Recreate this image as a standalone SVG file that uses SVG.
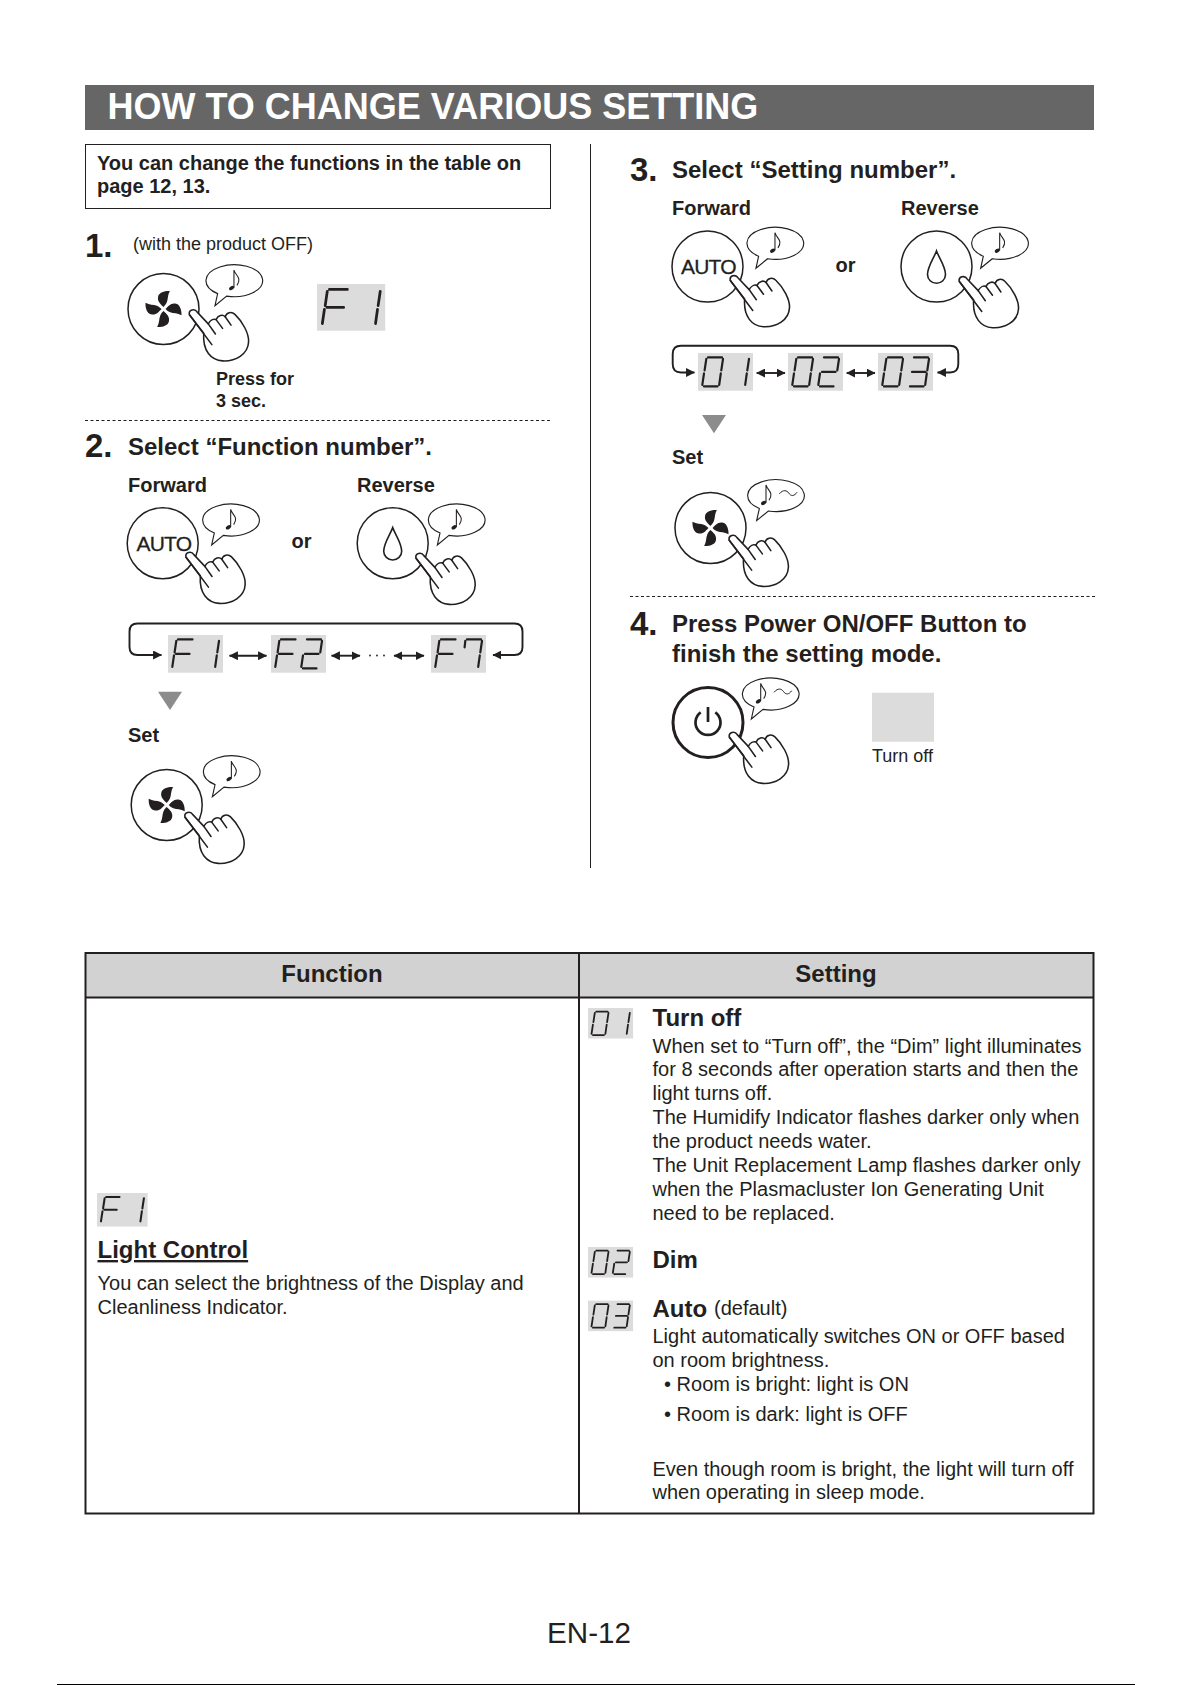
<svg xmlns="http://www.w3.org/2000/svg" width="1192" height="1685" viewBox="0 0 1192 1685">
<style>
text{font-family:"Liberation Sans",Arial,sans-serif;fill:#231f20}
.b{font-weight:bold}
.s{font-size:18px}
.bs{font-size:18px;font-weight:bold}
.bl{font-size:20px;font-weight:bold}
.h{font-size:24px;font-weight:bold}
.n{font-size:33px;font-weight:bold}
.t{font-size:24px;font-weight:bold}
.p{font-size:20px}
.a{font-size:21px;letter-spacing:-.8px;stroke:#231f20;stroke-width:.3}
.seg{fill:none;stroke:#231f20;stroke-width:2.2;stroke-linecap:round}
.led{fill:#dcdcdc}
.btn{fill:#fff;stroke:#231f20;stroke-width:1.5}
.hand{fill:#fff;stroke:#231f20;stroke-width:4.8;stroke-linejoin:round;stroke-linecap:round}
.wire{fill:none;stroke:#231f20;stroke-width:1.9;stroke-linejoin:round}
.dash{stroke:#231f20;stroke-width:1;stroke-dasharray:3 2.5;fill:none}
.tri{fill:#8c8c8c}
</style>
<defs>
<marker id="ah" viewBox="0 0 8 8" refX="7.5" refY="4" markerWidth="9" markerHeight="9" markerUnits="userSpaceOnUse" orient="auto-start-reverse"><path d="M0,0L8,4L0,8Z" fill="#231f20"/></marker>
<g id="dF" class="seg"><path d="M6,0H20.5M4.3,1.5L2.6,13M2,16L.3,27.5M4,14.5H17.5"/></g>
<g id="d1" class="seg"><path d="M21,1.5L19.3,13M18.8,16L17.2,27.5"/></g>
<g id="d2" class="seg"><path d="M6,0H20M21,1.5L19.3,13M4,14.5H17.5M2,16L.3,27.5M2,29H15.5"/></g>
<g id="d3" class="seg"><path d="M6,0H20M21,1.5L19.3,13M4,14.5H17.5M18.8,16L17.2,27.5M2,29H15.5"/></g>
<g id="d7" class="seg"><path d="M6,0H20M4.3,1.5L3.6,8M21,1.5L19.3,13M18.8,16L17.2,27.5"/></g>
<g id="d0" class="seg"><path d="M6,0H20M21,1.5L19.3,13M18.8,16L17.2,27.5M2,29H15.5M2,16L.3,27.5M4.3,1.5L2.6,13"/></g>
<g id="F1"><rect class="led" width="55" height="37.7"/><use href="#dF" x="4" y="4.4"/><use href="#d1" x="30" y="4.4"/></g>
<g id="F2"><rect class="led" width="55" height="37.7"/><use href="#dF" x="4" y="4.4"/><use href="#d2" x="30" y="4.4"/></g>
<g id="F7"><rect class="led" width="55" height="37.7"/><use href="#dF" x="4" y="4.4"/><use href="#d7" x="30" y="4.4"/></g>
<g id="S1"><rect class="led" width="55" height="37.7"/><use href="#d0" x="4" y="4.4"/><use href="#d1" x="30" y="4.4"/></g>
<g id="S2"><rect class="led" width="55" height="37.7"/><use href="#d0" x="4" y="4.4"/><use href="#d2" x="30" y="4.4"/></g>
<g id="S3"><rect class="led" width="55" height="37.7"/><use href="#d0" x="4" y="4.4"/><use href="#d3" x="30" y="4.4"/></g>
<g id="hand" class="hand" transform="scale(.325)">
<g transform="translate(-335,-278)">
<path d="M328,288C324,272 345,268 352,280L386,316C392,305 402,300 410,303C416,290 430,286 438,294C442,280 458,277 468,287C490,308 512,345 510,372C508,410 470,432 430,430C395,428 368,400 372,345Z"/>
<path d="M328,288L397,380M386,316L408,347M410,303L430,330M438,294L456,320" fill="none"/>
</g></g>
<g id="bub" transform="scale(.3333)">
<path d="M-50,38.8L-58,75L-23,46.2A85,48 0 1 0 -50,38.8Z" fill="#fff" stroke="#231f20" stroke-width="3.4"/>
<ellipse cx="-8" cy="22" rx="8.500" ry="5.500" transform="rotate(-30 -8 22)" fill="#231f20"/>
<path d="M-1,21V-32C3,-15 24,-10 8,14" fill="none" stroke="#231f20" stroke-width="3.2"/>
</g>
<g id="bubL" transform="scale(.3333)">
<path d="M-50,38.8L-58,75L-23,46.2A85,48 0 1 0 -50,38.8Z" fill="#fff" stroke="#231f20" stroke-width="3.4"/>
<ellipse cx="-37" cy="22" rx="8.500" ry="5.500" transform="rotate(-30 -37 22)" fill="#231f20"/>
<path d="M-30,21V-32C-26,-15 -5,-10 -21,14" fill="none" stroke="#231f20" stroke-width="3.2"/>
<path d="M10,-5C22,-20 33,-15 38,-8C45,3 55,2 63,-10" fill="none" stroke="#231f20" stroke-width="3"/>
</g>
<g id="fan" transform="scale(.3333)">
<path id="bl" d="M0,-6C-8,-14 -20,-22 -16,-38C-13,-50 5,-55 19,-54C12,-42 14,-30 10,-20C7,-13 3,-9 0,-6Z" fill="#231f20"/>
<use href="#bl" transform="rotate(90)"/><use href="#bl" transform="rotate(180)"/><use href="#bl" transform="rotate(270)"/>
</g>
<g id="drop" transform="scale(.3333)"><path d="M0,-47C-8,-25 -27,0 -27,24A27,26 0 0 0 27,24C27,0 8,-25 0,-47Z" fill="none" stroke="#231f20" stroke-width="4.8"/></g>
</defs>

<rect width="1192" height="1685" fill="#fff"/>

<g id="header">
<rect x="85" y="85" width="1009" height="45" fill="#666"/>
<text x="107.500" y="119" class="b" font-size="36" style="fill:#fff">HOW TO CHANGE VARIOUS SETTING</text>
</g>

<g id="note-box">
<rect x="85.500" y="144.500" width="465" height="64" fill="#fff" stroke="#231f20" stroke-width="1"/>
<text x="97" y="170" class="b" font-size="20">You can change the functions in the table on</text>
<text x="97" y="193" class="b" font-size="20">page 12, 13.</text>
</g>

<g id="dividers">
<line class="dash" x1="85" y1="420.500" x2="551" y2="420.500"/>
<line class="dash" x1="630" y1="596.500" x2="1095" y2="596.500"/>
<line x1="590.500" y1="144" x2="590.500" y2="868" stroke="#231f20" stroke-width="1"/>
</g>

<g id="step1">
<text x="85" y="257" class="n">1.</text>
<text x="133" y="249.500" class="s">(with the product OFF)</text>
<circle class="btn" cx="163.500" cy="309" r="35.500"/>
<use href="#fan" transform="translate(163.500,309)"/>
<use href="#bub" transform="translate(234.300,280.700)"/>
<use href="#hand" transform="translate(191.700,311.500)"/>
<use href="#F1" transform="translate(317,284) scale(1.24)"/>
<text x="216" y="385" class="bs">Press for</text>
<text x="216" y="407" class="bs">3 sec.</text>
</g>

<g id="step2">
<text x="85" y="457" class="n">2.</text>
<text x="128" y="455" class="h">Select “Function number”.</text>
<text x="128" y="492" class="bl">Forward</text>
<text x="357" y="492" class="bl">Reverse</text>
<circle class="btn" cx="162.700" cy="543.300" r="35.500"/>
<text x="136.500" y="551" class="a">AUTO</text>
<use href="#bub" transform="translate(231,520)"/>
<use href="#hand" transform="translate(188.300,554)"/>
<text x="291.500" y="548" class="bl">or</text>
<circle class="btn" cx="392.700" cy="543.300" r="35.500"/>
<use href="#drop" transform="translate(392.700,543.300)"/>
<use href="#bub" transform="translate(456.700,520)"/>
<use href="#hand" transform="translate(418.300,555)"/>
<use href="#F1" x="168" y="635"/>
<use href="#F2" x="271" y="635"/>
<use href="#F7" x="431" y="635"/>
<polygon class="tri" points="158,691.700 182,691.700 170,710"/>
<text x="128" y="742" class="bl">Set</text>
<circle class="btn" cx="166.700" cy="805" r="35.500"/>
<use href="#fan" transform="translate(166.700,805)"/>
<use href="#bub" transform="translate(231.700,771.700)"/>
<use href="#hand" transform="translate(187.300,814)"/>
</g>

<g id="step3">
<text x="630" y="181" class="n">3.</text>
<text x="672" y="178" class="h">Select “Setting number”.</text>
<text x="672" y="215" class="bl">Forward</text>
<text x="901" y="215" class="bl">Reverse</text>
<circle class="btn" cx="707.500" cy="266.600" r="35.500"/>
<text x="681" y="274.300" class="a">AUTO</text>
<use href="#bub" transform="translate(775.300,243.300)"/>
<use href="#hand" transform="translate(732.600,277.300)"/>
<text x="835.500" y="272" class="bl">or</text>
<circle class="btn" cx="936.500" cy="266.600" r="35.500"/>
<use href="#drop" transform="translate(936.500,266.600)"/>
<use href="#bub" transform="translate(1000,243.300)"/>
<use href="#hand" transform="translate(961.600,278.300)"/>
<use href="#S1" x="698" y="353"/>
<use href="#S2" x="788" y="353"/>
<use href="#S3" x="878" y="353"/>
<polygon class="tri" points="702,415 726,415 714,433.300"/>
<text x="672" y="464" class="bl">Set</text>
<circle class="btn" cx="710.500" cy="528" r="35.500"/>
<use href="#fan" transform="translate(710.500,528)"/>
<use href="#bubL" transform="translate(776,495.600)"/>
<use href="#hand" transform="translate(731.500,537)"/>
</g>

<g id="step4">
<text x="630" y="635" class="n">4.</text>
<text x="672" y="632" class="h">Press Power ON/OFF Button to</text>
<text x="672" y="662" class="h">finish the setting mode.</text>
<circle cx="708" cy="722.500" r="35" fill="#fff" stroke="#231f20" stroke-width="3"/>
<path d="M700.700,712.300A12.500,12.500 0 1 0 715.300,712.300M708,707V722" fill="none" stroke="#231f20" stroke-width="2.700"/>
<use href="#bubL" transform="translate(770.700,694)"/>
<use href="#hand" transform="translate(731.700,734)"/>
<rect class="led" x="872" y="692.700" width="62" height="49"/>
<text x="872" y="762" class="s">Turn off</text>
</g>

<g id="connectors">
<path class="wire" d="M161,655H137.500Q129.500,655 129.500,647V631.500Q129.500,623.500 137.500,623.500H514.500Q522.500,623.500 522.500,631.500V647Q522.500,655 514.500,655H493" marker-end="url(#ah)"/>
<path d="M155,655H161.500" class="wire" marker-end="url(#ah)"/>
<path class="wire" d="M229.500,655.700H266.500" marker-start="url(#ah)" marker-end="url(#ah)"/>
<path class="wire" d="M331.500,655.700H360" marker-start="url(#ah)" marker-end="url(#ah)"/>
<path class="wire" d="M394,655.700H424" marker-start="url(#ah)" marker-end="url(#ah)"/>
<path class="wire" d="M690,372.500H681Q672.700,372.500 672.700,364V354Q672.700,345.700 681,345.700H950Q958.300,345.700 958.300,354V364Q958.300,372.500 950,372.500H937.500" marker-end="url(#ah)"/>
<path d="M688,372.500H694.500" class="wire" marker-end="url(#ah)"/>
<path class="wire" d="M756.700,373H785" marker-start="url(#ah)" marker-end="url(#ah)"/>
<path class="wire" d="M846.700,373H875" marker-start="url(#ah)" marker-end="url(#ah)"/>
<circle cx="370" cy="655.500" r=".9" fill="#231f20"/><circle cx="377" cy="655.500" r=".9" fill="#231f20"/><circle cx="384" cy="655.500" r=".9" fill="#231f20"/>
</g>

<g id="table">
<rect x="85.500" y="953" width="1008" height="44.500" fill="#d2d2d2"/>
<rect x="85.500" y="953" width="1008" height="560.500" fill="none" stroke="#231f20" stroke-width="2"/>
<path d="M85.500,997.500H1093.500M579,953V1513.500" fill="none" stroke="#231f20" stroke-width="2"/>
<text x="332" y="982" class="t" text-anchor="middle">Function</text>
<text x="836" y="982" class="t" text-anchor="middle">Setting</text>
</g>

<g id="function-cell">
<use href="#F1" transform="translate(97,1193) scale(.92,.89)"/>
<text x="97.500" y="1258" class="t" text-decoration="underline">Light Control</text>
<text x="97.500" y="1290" class="p">You can select the brightness of the Display and</text>
<text x="97.500" y="1313.500" class="p">Cleanliness Indicator.</text>
</g>

<g id="setting-cell">
<use href="#S1" transform="translate(588,1008) scale(.82,.81)"/>
<text x="652.500" y="1025.500" class="t">Turn off</text>
<text x="652.500" y="1052.500" class="p">When set to “Turn off”, the “Dim” light illuminates</text>
<text x="652.500" y="1076.400" class="p">for 8 seconds after operation starts and then the</text>
<text x="652.500" y="1100.300" class="p">light turns off.</text>
<text x="652.500" y="1124.200" class="p">The Humidify Indicator flashes darker only when</text>
<text x="652.500" y="1148.100" class="p">the product needs water.</text>
<text x="652.500" y="1172" class="p">The Unit Replacement Lamp flashes darker only</text>
<text x="652.500" y="1195.900" class="p">when the Plasmacluster Ion Generating Unit</text>
<text x="652.500" y="1219.800" class="p">need to be replaced.</text>
<use href="#S2" transform="translate(588,1247) scale(.82,.81)"/>
<text x="652.500" y="1268.400" class="t">Dim</text>
<use href="#S3" transform="translate(588,1300.600) scale(.82,.81)"/>
<text x="652.500" y="1316.700" class="t">Auto</text>
<text x="714" y="1315" class="p">(default)</text>
<text x="652.500" y="1343.300" class="p">Light automatically switches ON or OFF based</text>
<text x="652.500" y="1367" class="p">on room brightness.</text>
<text x="664" y="1391" class="p">• Room is bright: light is ON</text>
<text x="664" y="1421" class="p">• Room is dark: light is OFF</text>
<text x="652.500" y="1475.500" class="p">Even though room is bright, the light will turn off</text>
<text x="652.500" y="1499" class="p">when operating in sleep mode.</text>
</g>

<text x="589" y="1642.500" font-size="29.600" text-anchor="middle">EN-12</text>
<rect x="57" y="1684" width="1078" height="1" fill="#000"/>
</svg>
